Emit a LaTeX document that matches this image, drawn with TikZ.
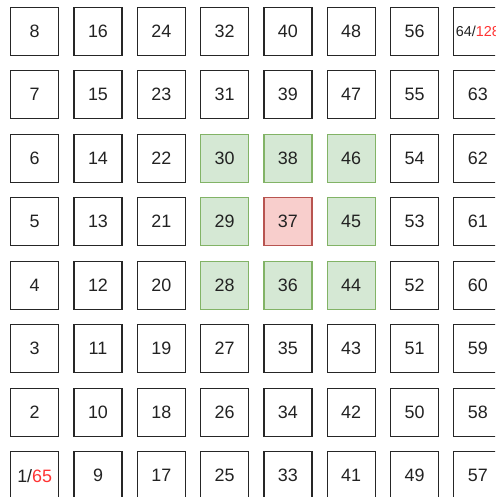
\documentclass[tikz,border=0pt]{standalone}
\usepackage{fontspec}
\setmainfont{Liberation Sans}
\usepackage{xcolor}
\usepackage{tikz}
\usetikzlibrary{positioning}
\definecolor{nbgreen}{RGB}{213,232,212}
\definecolor{nbgreendark}{RGB}{130,179,102}
\definecolor{ctred}{RGB}{248,206,204}
\definecolor{ctreddark}{RGB}{184,84,80}
\definecolor{wrapred}{RGB}{255,51,51}
\definecolor{txtgray}{RGB}{34,34,34}

\begin{document}
\begin{tikzpicture}[
      x=0.02cm, y=-0.02cm,
      every node/.style={font=\fontsize{10.2}{12}\selectfont, text=txtgray},
      cellbox/.style={draw=black!85, fill=white, line width=0.7pt, minimum size=0.96cm, inner sep=0pt},
      nearbox/.style={cellbox, draw=nbgreendark, fill=nbgreen},
      centerbox/.style={cellbox, draw=ctreddark, fill=ctred}
    ]
      \clip (0,0) rectangle (495,497);
      \fill[white] (0,0) rectangle (495,497);

      % Row 1 (top)
      \node[cellbox] (c8) at (34.7,31.2) {8};
      \node[cellbox] (c16) at (98.0,31.2) {16};
      \node[cellbox] (c24) at (161.3,31.2) {24};
      \node[cellbox] (c32) at (224.6,31.2) {32};
      \node[cellbox] (c40) at (287.9,31.2) {40};
      \node[cellbox] (c48) at (351.2,31.2) {48};
      \node[cellbox] (c56) at (414.5,31.2) {56};
      \node[cellbox, font=\fontsize{8.2}{10}\selectfont] (c64) at (477.8,31.2) {64/\textcolor{wrapred}{128}};

      % Row 2
      \node[cellbox] (c7) at (34.7,94.7) {7};
      \node[cellbox] (c15) at (98.0,94.7) {15};
      \node[cellbox] (c23) at (161.3,94.7) {23};
      \node[cellbox] (c31) at (224.6,94.7) {31};
      \node[cellbox] (c39) at (287.9,94.7) {39};
      \node[cellbox] (c47) at (351.2,94.7) {47};
      \node[cellbox] (c55) at (414.5,94.7) {55};
      \node[cellbox] (c63) at (477.8,94.7) {63};

      % Row 3
      \node[cellbox] (c6) at (34.7,158.2) {6};
      \node[cellbox] (c14) at (98.0,158.2) {14};
      \node[cellbox] (c22) at (161.3,158.2) {22};
      \node[nearbox] (c30) at (224.6,158.2) {30};
      \node[nearbox] (c38) at (287.9,158.2) {38};
      \node[nearbox] (c46) at (351.2,158.2) {46};
      \node[cellbox] (c54) at (414.5,158.2) {54};
      \node[cellbox] (c62) at (477.8,158.2) {62};

      % Row 4: centre cell 37
      \node[cellbox] (c5) at (34.7,221.7) {5};
      \node[cellbox] (c13) at (98.0,221.7) {13};
      \node[cellbox] (c21) at (161.3,221.7) {21};
      \node[nearbox] (c29) at (224.6,221.7) {29};
      \node[centerbox] (c37) at (287.9,221.7) {37};
      \node[nearbox] (c45) at (351.2,221.7) {45};
      \node[cellbox] (c53) at (414.5,221.7) {53};
      \node[cellbox] (c61) at (477.8,221.7) {61};

      % Row 5
      \node[cellbox] (c4) at (34.7,285.2) {4};
      \node[cellbox] (c12) at (98.0,285.2) {12};
      \node[cellbox] (c20) at (161.3,285.2) {20};
      \node[nearbox] (c28) at (224.6,285.2) {28};
      \node[nearbox] (c36) at (287.9,285.2) {36};
      \node[nearbox] (c44) at (351.2,285.2) {44};
      \node[cellbox] (c52) at (414.5,285.2) {52};
      \node[cellbox] (c60) at (477.8,285.2) {60};

      % Row 6
      \node[cellbox] (c3) at (34.7,348.7) {3};
      \node[cellbox] (c11) at (98.0,348.7) {11};
      \node[cellbox] (c19) at (161.3,348.7) {19};
      \node[cellbox] (c27) at (224.6,348.7) {27};
      \node[cellbox] (c35) at (287.9,348.7) {35};
      \node[cellbox] (c43) at (351.2,348.7) {43};
      \node[cellbox] (c51) at (414.5,348.7) {51};
      \node[cellbox] (c59) at (477.8,348.7) {59};

      % Row 7
      \node[cellbox] (c2) at (34.7,412.2) {2};
      \node[cellbox] (c10) at (98.0,412.2) {10};
      \node[cellbox] (c18) at (161.3,412.2) {18};
      \node[cellbox] (c26) at (224.6,412.2) {26};
      \node[cellbox] (c34) at (287.9,412.2) {34};
      \node[cellbox] (c42) at (351.2,412.2) {42};
      \node[cellbox] (c50) at (414.5,412.2) {50};
      \node[cellbox] (c58) at (477.8,412.2) {58};

      % Row 8 (bottom)
      \node[cellbox] (c1) at (34.7,475.7) {1/\textcolor{wrapred}{65}};
      \node[cellbox] (c9) at (98.0,475.7) {9};
      \node[cellbox] (c17) at (161.3,475.7) {17};
      \node[cellbox] (c25) at (224.6,475.7) {25};
      \node[cellbox] (c33) at (287.9,475.7) {33};
      \node[cellbox] (c41) at (351.2,475.7) {41};
      \node[cellbox] (c49) at (414.5,475.7) {49};
      \node[cellbox] (c57) at (477.8,475.7) {57};
    \end{tikzpicture}
\end{document}
